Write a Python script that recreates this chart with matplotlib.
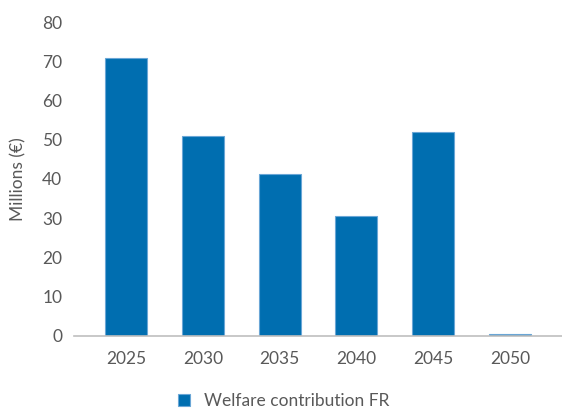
import matplotlib.pyplot as plt
import numpy as np

years = ['2025', '2030', '2035', '2040', '2045', '2050']
welfare_fr = [71, 51, 41.2, 30.5, 52, 0.4]

plt.rcParams['font.family'] = ['Lato', 'DejaVu Sans']
grey = '#595959'

fig = plt.figure(figsize=(5.62, 4.08), dpi=100)
ax = fig.add_axes([74 / 562, 72.5 / 408, 1 - 74 / 562, 313 / 408])

x = np.arange(len(years))
ax.bar(x, welfare_fr, width=0.545, color='#006EB0', edgecolor='#6aa6d6',
       linewidth=0.8, label='Welfare contribution FR')

ax.set_ylim(0, 80)
ax.set_yticks(range(0, 81, 10))
ax.set_xlim(-0.68, 5.68)
ax.set_xticks(x)
ax.set_xticklabels(years)

for s in ['top', 'right', 'left']:
    ax.spines[s].set_visible(False)
ax.spines['bottom'].set_color('#bfbfbf')
ax.spines['bottom'].set_linewidth(1.2)
ax.tick_params(length=0, labelsize=12.5, colors=grey)
ax.tick_params(axis='y', pad=8.5)
ax.tick_params(axis='x', pad=11.5)
ax.set_ylabel('Millions (€)', fontsize=12.5, color=grey)
ax.yaxis.set_label_coords(-0.098, 0.5)

fig.legend(loc='center', bbox_to_anchor=(0.505, 0.018), frameon=False,
           fontsize=12.5, labelcolor=grey, handlelength=0.7, handleheight=0.7,
           handletextpad=0.8)

fig.savefig('out.png', dpi=100)
